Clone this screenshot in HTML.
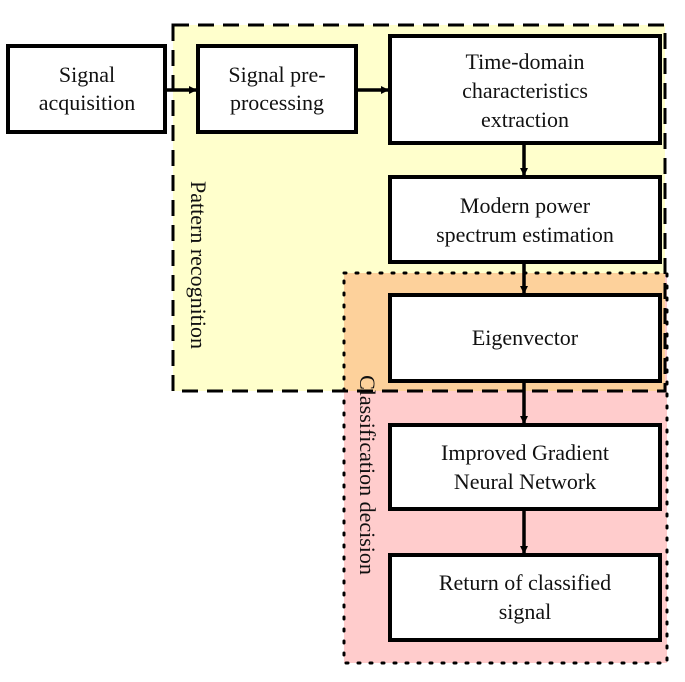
<!DOCTYPE html>
<html><head><meta charset="utf-8"><style>
html,body{margin:0;padding:0;background:#fff;}
svg text{font-family:"Liberation Serif",serif;font-size:22px;fill:#111;}
</style></head><body>
<svg width="685" height="677" viewBox="0 0 685 677" xmlns="http://www.w3.org/2000/svg">
<defs>
<marker id="a" markerWidth="8" markerHeight="8" refX="7" refY="4" orient="auto" markerUnits="userSpaceOnUse" viewBox="0 0 8 8"><path d="M0,0 L8,4 L0,8 z" fill="#000"/></marker>
</defs>
<!-- regions -->
<rect x="173" y="25" width="492" height="366" fill="#ffffcc"/>
<rect x="344" y="273" width="323" height="390" fill="#ffcccc"/>
<rect x="344" y="273" width="321" height="118" fill="#fdd19b"/>
<rect x="173" y="25" width="492" height="366" fill="none" stroke="#000" stroke-width="3" stroke-dasharray="16,9"/>
<rect x="344" y="273" width="323" height="390" fill="none" stroke="#000" stroke-width="3" stroke-dasharray="2,10" stroke-linecap="round"/>
<!-- boxes -->
<g fill="#fff" stroke="#000" stroke-width="4">
<rect x="8" y="46" width="157" height="86"/>
<rect x="198" y="46" width="158" height="86"/>
<rect x="390" y="36" width="270" height="107"/>
<rect x="390" y="177" width="270" height="85"/>
<rect x="390" y="295" width="270" height="86"/>
<rect x="390" y="425" width="270" height="84"/>
<rect x="390" y="555" width="270" height="85"/>
</g>
<!-- arrows -->
<g stroke="#000" stroke-width="3.5" fill="none">
<path d="M167,90 L196,90" marker-end="url(#a)"/>
<path d="M358,90 L388,90" marker-end="url(#a)"/>
<path d="M524,145 L524,175" marker-end="url(#a)"/>
<path d="M524,264 L524,293" marker-end="url(#a)"/>
<path d="M524,383 L524,423" marker-end="url(#a)"/>
<path d="M524,511 L524,553" marker-end="url(#a)"/>
</g>
<g text-anchor="middle">
<text x="87" y="82">Signal</text><text x="87" y="110">acquisition</text>
<text x="277" y="82">Signal pre-</text><text x="277" y="110">processing</text>
<text x="525" y="69">Time-domain</text><text x="525" y="98">characteristics</text><text x="525" y="127">extraction</text>
<text x="525" y="213">Modern power</text><text x="525" y="242">spectrum estimation</text>
<text x="525" y="345">Eigenvector</text>
<text x="525" y="460">Improved Gradient</text><text x="525" y="489">Neural Network</text>
<text x="525" y="590">Return of classified</text><text x="525" y="619">signal</text>
<text transform="translate(191,265) rotate(90)">Pattern recognition</text>
<text transform="translate(360,475) rotate(90)">Classification decision</text>
</g>
</svg>
</body></html>
